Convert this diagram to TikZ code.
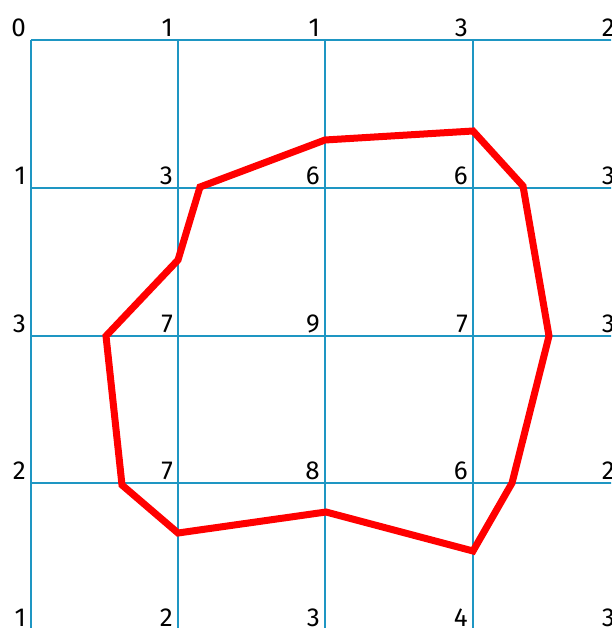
\documentclass[tikz,border=0pt]{standalone}
\usepackage{fontspec}
\setmainfont{Fira Sans}
\definecolor{gridblue}{RGB}{30,150,195}
\definecolor{polyred}{RGB}{255,0,0}
\begin{document}
\begin{tikzpicture}[x=1pt,y=-1pt,
  gridline/.style={draw=gridblue,line width=2.2pt},
  val/.style={anchor=south east,inner sep=0pt,font=\fontsize{26}{26}\selectfont},
  contour/.style={draw=polyred,line width=7pt,line join=miter,miter limit=4}]
\useasboundingbox (0,0) rectangle (611,628);
\clip (0,0) rectangle (611,628);
% grid
\foreach \x in {31,178,325,473,620}
  \draw[gridline] (\x,40) -- (\x,640);
\foreach \y in {40,188,336,483,630}
  \draw[gridline] (31,\y) -- (640,\y);
% labels
\def\xs{{31,178,325,473,620}}
\def\ys{{40,188,336,483,630}}
\foreach \row/\vals in {0/{0,1,1,3,2},1/{1,3,6,6,3},2/{3,7,9,7,3},3/{2,7,8,6,2},4/{1,2,3,4,3}}{
  \foreach \v [count=\c from 0] in \vals {
    \pgfmathsetmacro\px{\xs[\c]-5}
    \pgfmathsetmacro\py{\ys[\row]-3}
    \node[val] (v\row\c) at (\px,\py) {\v};
  }
}
% contour
\coordinate (p1) at (200,187);
\coordinate (p2) at (325,140);
\coordinate (p3) at (473,131);
\coordinate (p4) at (523,186);
\coordinate (p5) at (549,336);
\coordinate (p6) at (512,483);
\coordinate (p7) at (473,551);
\coordinate (p8) at (326,512);
\coordinate (p9) at (178,533);
\coordinate (p10) at (122,485);
\coordinate (p11) at (106,336);
\coordinate (p12) at (178,260);
\draw[contour] (p1) -- (p2) -- (p3) -- (p4) -- (p5) -- (p6) -- (p7) -- (p8) -- (p9) -- (p10) -- (p11) -- (p12) -- cycle;
\end{tikzpicture}
\end{document}
